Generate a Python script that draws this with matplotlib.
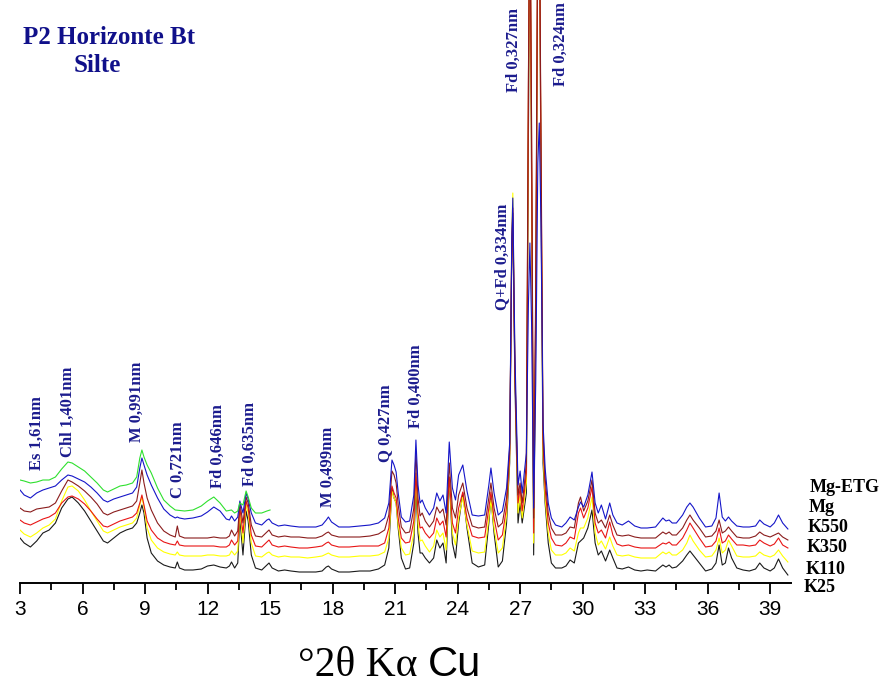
import matplotlib
matplotlib.use("Agg")
import matplotlib.pyplot as plt
from matplotlib.ticker import MultipleLocator

# 2-theta grid shared by the five full-range patterns
two_theta = [3.0, 3.2, 3.5, 3.8, 4.1, 4.4, 4.7, 5.0, 5.3, 5.5, 5.8, 6.1, 6.4, 6.7, 7.0, 7.2,
             7.5, 7.8, 8.1, 8.4, 8.6, 8.75, 8.85, 8.95, 9.1, 9.3, 9.6, 9.9, 10.2, 10.45, 10.55,
             10.65, 10.9, 11.3, 11.7, 12.0, 12.3, 12.6, 12.9, 13.05, 13.15, 13.3, 13.45, 13.55,
             13.7, 13.85, 13.95, 14.1, 14.3, 14.6, 14.85, 14.95, 15.1, 15.4, 15.7, 16.0, 16.4,
             16.8, 17.2, 17.5, 17.7, 17.8, 17.95, 18.3, 18.8, 19.3, 19.8, 20.2, 20.5, 20.7,
             20.85, 20.95, 21.05, 21.15, 21.3, 21.5, 21.7, 21.9, 22.0, 22.1, 22.2, 22.3, 22.45,
             22.65, 22.85, 23.0, 23.15, 23.3, 23.45, 23.6, 23.75, 23.9, 24.05, 24.25, 24.45,
             24.7, 25.0, 25.3, 25.5, 25.6, 25.75, 25.95, 26.15, 26.35, 26.5, 26.6, 26.65,
             26.75, 26.9, 27.0, 27.1, 27.2, 27.3, 27.4, 27.47, 27.55, 27.65, 27.75, 27.85,
             27.92, 28.0, 28.1, 28.2, 28.35, 28.5, 28.7, 29.0, 29.2, 29.4, 29.6, 29.8, 29.9,
             30.05, 30.25, 30.45, 30.6, 30.75, 30.9, 31.1, 31.3, 31.45, 31.65, 31.9, 32.2,
             32.5, 32.8, 33.1, 33.5, 33.85, 34.0, 34.15, 34.3, 34.5, 34.8, 35.0, 35.15, 35.3,
             35.6, 35.9, 36.2, 36.4, 36.55, 36.7, 36.85, 37.0, 37.15, 37.4, 37.7, 38.0, 38.3,
             38.5, 38.7, 39.0, 39.2, 39.4, 39.6, 39.85]

k25 = [45, 40, 36, 42, 50, 53, 60, 75, 84, 86, 80, 72, 62, 52, 42, 40,
       45, 50, 53, 55, 60, 70, 78, 70, 45, 30, 22, 18, 16, 15, 21,
       15, 13, 13, 14, 17, 18, 16, 15, 17, 21, 15, 20, 65,
       28, 72, 62, 28, 15, 13, 18, 20, 15, 12, 13, 12, 11,
       11, 11, 12, 16, 17, 14, 11, 11, 12, 12, 14, 18, 35,
       95, 85, 80, 55, 25, 14, 15, 40, 96, 50, 30, 30, 25,
       20, 25, 43, 35, 40, 20, 105, 40, 25, 60, 90, 55,
       20, 16, 18, 60, 86, 50, 16, 22, 60, 120, 330, 365,
       200, 60, 80, 60, 75, 90, 450, 700, 400, 28, 250, 650,
       700, 400, 120, 80, 40, 20, 15, 15, 17, 23, 20, 40, 42,
       45, 55, 73, 40, 28, 32, 22, 33, 25, 15, 14, 16,
       13, 12, 13, 12, 18, 16, 18, 15, 16, 22, 28, 32, 28,
       20, 12, 14, 20, 38, 18, 20, 35, 25, 15, 13, 12, 14,
       20, 15, 12, 15, 24, 15, 8]

k110 = [53, 49, 46, 50, 55, 58, 64, 82, 96, 97, 92, 83, 72, 62, 52, 50,
        53, 56, 58, 60, 65, 78, 86, 76, 55, 43, 35, 31, 29, 28, 31,
        28, 27, 27, 27, 28, 28, 27, 27, 28, 32, 28, 32, 72,
        40, 78, 70, 40, 27, 26, 30, 31, 28, 26, 27, 26, 26,
        25, 26, 27, 29, 30, 28, 26, 26, 27, 27, 28, 31, 45,
        92, 85, 80, 58, 35, 28, 29, 50, 106, 60, 42, 43, 37,
        31, 37, 53, 46, 50, 33, 106, 50, 38, 65, 86, 58,
        32, 30, 31, 65, 83, 55, 30, 35, 68, 125, 350, 390,
        220, 70, 88, 65, 82, 100, 480, 700, 420, 40, 270, 660,
        700, 420, 130, 85, 50, 33, 28, 28, 30, 35, 32, 50, 55,
        55, 65, 86, 50, 38, 42, 34, 46, 37, 28, 27, 28,
        26, 25, 25, 25, 31, 29, 31, 28, 28, 33, 40, 48, 42,
        33, 26, 27, 33, 45, 30, 33, 43, 37, 27, 26, 26, 27,
        31, 28, 26, 28, 33, 27, 21]

k350 = [63, 60, 58, 61, 64, 66, 70, 80, 86, 87, 84, 79, 72, 64, 57, 56,
        59, 62, 64, 66, 70, 80, 88, 78, 62, 53, 45, 41, 39, 38, 42,
        38, 37, 37, 37, 37, 37, 36, 36, 38, 43, 38, 42, 75,
        50, 82, 75, 48, 37, 36, 41, 43, 38, 36, 37, 36, 35,
        35, 36, 37, 40, 41, 38, 36, 36, 37, 37, 37, 40, 55,
        97, 90, 85, 65, 45, 40, 41, 62, 110, 70, 55, 56, 50,
        45, 50, 65, 58, 62, 46, 106, 60, 50, 75, 91, 65,
        47, 45, 46, 75, 91, 65, 43, 48, 76, 130, 340, 375,
        215, 80, 95, 72, 90, 110, 500, 700, 440, 50, 280, 670,
        700, 430, 140, 95, 60, 45, 38, 37, 40, 46, 44, 70, 75,
        65, 75, 96, 60, 50, 53, 45, 61, 48, 39, 37, 38,
        36, 35, 35, 35, 40, 39, 41, 38, 38, 45, 53, 60, 55,
        45, 36, 37, 42, 55, 40, 42, 48, 44, 38, 38, 37, 38,
        43, 40, 37, 39, 45, 38, 35]

k550 = [75, 72, 71, 74, 75, 76, 80, 92, 103, 101, 97, 92, 86, 79, 70, 68,
        71, 73, 75, 77, 82, 100, 113, 100, 85, 73, 60, 52, 48, 46, 57,
        47, 45, 45, 45, 45, 46, 45, 45, 47, 53, 47, 52, 80,
        60, 86, 80, 58, 47, 46, 51, 53, 48, 46, 47, 46, 46,
        45, 45, 47, 50, 51, 48, 46, 46, 46, 47, 49, 53, 68,
        112, 108, 100, 78, 56, 50, 51, 75, 131, 85, 67, 70, 62,
        56, 62, 76, 70, 74, 58, 120, 75, 65, 88, 100, 75,
        57, 55, 56, 85, 100, 75, 56, 60, 85, 135, 335, 370,
        210, 88, 100, 80, 98, 120, 510, 700, 460, 65, 300, 680,
        700, 450, 150, 105, 70, 55, 48, 48, 50, 56, 55, 80, 86,
        72, 82, 103, 70, 60, 63, 55, 68, 58, 48, 47, 48,
        46, 45, 45, 45, 51, 49, 51, 48, 48, 55, 63, 68, 63,
        55, 46, 47, 52, 63, 50, 52, 56, 52, 46, 45, 45, 47,
        51, 48, 46, 48, 50, 46, 43]

mg = [93, 88, 85, 90, 93, 95, 97, 103, 108, 107, 104, 101, 96, 90, 83, 81,
      84, 86, 88, 90, 96, 115, 125, 118, 108, 98, 85, 74, 68, 65, 66,
      65, 64, 65, 67, 71, 76, 72, 64, 63, 67, 62, 66, 82,
      70, 90, 84, 70, 60, 58, 63, 64, 60, 57, 58, 57, 56,
      56, 56, 58, 63, 66, 61, 56, 56, 57, 58, 60, 65, 80,
      123, 118, 111, 90, 66, 61, 62, 88, 143, 98, 80, 83, 75,
      68, 75, 90, 82, 88, 70, 141, 95, 83, 108, 118, 92,
      68, 67, 68, 98, 115, 90, 68, 72, 95, 140, 345, 385,
      230, 98, 112, 90, 110, 130, 280, 340, 260, 75, 200, 420,
      460, 360, 160, 115, 80, 65, 58, 56, 60, 66, 63, 76, 81,
      76, 88, 111, 80, 70, 78, 64, 80, 68, 60, 58, 62,
      57, 55, 55, 56, 65, 62, 63, 60, 60, 68, 76, 80, 76,
      65, 56, 57, 65, 90, 66, 62, 66, 62, 57, 56, 56, 57,
      63, 59, 56, 60, 68, 60, 54]

# Mg-ETG was only scanned up to 15 degrees
two_theta_etg = [3.0, 3.2, 3.5, 3.8, 4.1, 4.4, 4.7, 5.0, 5.3, 5.5, 5.8, 6.1, 6.4, 6.7, 7.0,
                 7.2, 7.5, 7.8, 8.1, 8.4, 8.6, 8.75, 8.85, 8.95, 9.1, 9.3, 9.6, 9.9, 10.2,
                 10.45, 10.9, 11.3, 11.7, 12.0, 12.3, 12.6, 12.9, 13.15, 13.3, 13.45, 13.55,
                 13.7, 13.85, 13.95, 14.1, 14.3, 14.6, 14.85, 15.0]
mg_etg = [103, 102, 100, 101, 103, 103, 106, 114, 121, 120, 116, 112, 106, 100, 93,
          91, 94, 97, 98, 100, 106, 125, 133, 126, 118, 110, 95, 83, 77,
          73, 72, 73, 77, 82, 86, 80, 72, 73, 70, 72, 80,
          78, 92, 86, 75, 70, 70, 72, 73]

series_names = ["K25", "K110", "K350", "K550", "Mg"]
series_colors = ["#1a1a1a", "#ffff00", "#e81515", "#8a1c1c", "#1515c8"]

peak_labels = ["Es 1,61nm", "Chl 1,401nm", "M 0,991nm", "C 0,721nm", "Fd 0,646nm",
               "Fd 0,635nm", "M 0,499nm", "Q 0,427nm", "Fd 0,400nm", "Q+Fd 0,334nm",
               "Fd 0,327nm", "Fd 0,324nm"]
peak_label_x = [3.82, 5.3, 8.62, 10.58, 12.5, 14.04, 17.79, 20.52, 22.0, 26.14, 26.72, 28.97]
peak_label_y = [113, 126, 141, 85, 95, 97, 76, 121, 155, 273, 491, 497]

navy = "#1c1c8e"

fig = plt.figure(figsize=(8.82, 6.86), dpi=100)
ax = fig.add_axes([20 / 882, 103 / 686, 771 / 882, 583 / 686])

for name, ys, col in zip(series_names, [k25, k110, k350, k550, mg], series_colors):
    ax.plot(two_theta, ys, color=col, lw=0.8, label=name)
ax.plot(two_theta_etg, mg_etg, color="#2ee02e", lw=0.8, label="Mg-ETG")

for txt, px, py in zip(peak_labels, peak_label_x, peak_label_y):
    ax.text(px, py, txt, rotation=90, ha="center", va="bottom", color=navy,
            fontsize=12, fontweight="bold", family="Liberation Serif")

ax.set_xlim(3, 40)
ax.set_ylim(0, 583)
for s in ["left", "right", "top"]:
    ax.spines[s].set_visible(False)
ax.spines["bottom"].set_linewidth(1.4)
ax.yaxis.set_visible(False)
ax.xaxis.set_major_locator(MultipleLocator(3))
ax.xaxis.set_minor_locator(MultipleLocator(1.5))
ax.tick_params(axis="x", which="major", direction="out", length=8, width=1.3,
               labelsize=15, pad=4)
ax.tick_params(axis="x", which="minor", direction="out", length=5, width=1.3)
for lab in ax.get_xticklabels():
    lab.set_family("Liberation Sans")

# trace names on the right
for name, ypx, xpx in zip(["Mg-ETG", "Mg", "K550", "K350", "K110", "K25"],
                          [488, 507, 527, 548, 569, 588],
                          [810, 809, 808, 807, 806, 804]):
    fig.text(xpx / 882, 1 - ypx / 686, name, ha="left", va="center", fontsize=13,
             fontweight="bold", family="Liberation Serif")

fig.text(23 / 882, 1 - 37 / 686, "P2 Horizonte Bt", ha="left", va="center", fontsize=18,
         fontweight="bold", family="Liberation Serif", color="#10108a")
fig.text(74 / 882, 1 - 65 / 686, "Silte", ha="left", va="center", fontsize=18,
         fontweight="bold", family="Liberation Serif", color="#10108a")

# x label: Greek part in serif, "Cu" in sans
fig.text(428 / 882, 1 - 676 / 686, "°2θ Kα ", ha="right", va="baseline", fontsize=30,
         family="Liberation Serif")
fig.text(428 / 882, 1 - 676 / 686, "Cu", ha="left", va="baseline", fontsize=30,
         family="Liberation Sans")

fig.savefig("out.png", dpi=100)
